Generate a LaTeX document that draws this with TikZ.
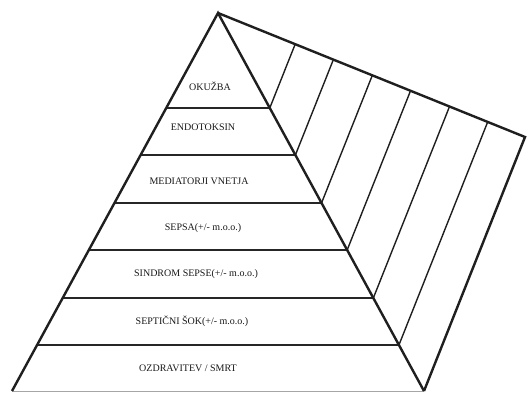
\documentclass[tikz,border=0pt]{standalone}
\usepackage{fontspec}
\setmainfont{Liberation Serif}
\usetikzlibrary{calc}
\begin{document}
\begin{tikzpicture}[x=1pt,y=-1pt,
  outline/.style={line width=2.4pt,draw=black!88,line join=miter},
  divider/.style={line width=1.3pt,draw=black!85},
  hatch/.style={line width=1.4pt,draw=black!88},
  lvl/.style={font=\fontsize{10}{12}\selectfont,text=black!90,inner sep=0pt}]
\useasboundingbox (0,0) rectangle (527,392);
\fill[white] (0,0) rectangle (527,392);
% main points
\coordinate (A) at (218,13);
\coordinate (L) at (12,391);
\coordinate (R) at (424,391);
\coordinate (C) at (525,137);
% level junctions
\foreach \t [count=\i] in {0.2513,0.3757,0.5026,0.6270,0.7540,0.8783}{
  \coordinate (l\i) at ($(A)!\t!(L)$);
  \coordinate (r\i) at ($(A)!\t!(R)$);
  \coordinate (k\i) at ($(r\i)+(C)-(R)$);
  \coordinate (t\i) at (intersection of A--C and r\i--k\i);
}
% horizontal dividers
\foreach \i in {1,...,6}{ \draw[divider] (l\i) -- (r\i); }
% hatching lines
\foreach \i in {1,...,6}{ \draw[hatch] (r\i) -- (t\i); }
% base line
\draw[line width=0.8pt,draw=black!35] (L) -- (R);
% outlines
\draw[outline] (L) -- (A) -- (R);
\draw[outline] (A) -- (C) -- (R);
% labels
\node[lvl] (n1) at (210,86) {OKUŽBA};
\node[lvl] (n2) at (203,127) {ENDOTOKSIN};
\node[lvl] (n3) at (199,181) {MEDIATORJI VNETJA};
\node[lvl] (n4) at (203,228) {SEPSA(+/- m.o.o.)};
\node[lvl] (n5) at (196,274) {SINDROM SEPSE(+/- m.o.o.)};
\node[lvl] (n6) at (192,321) {SEPTIČNI ŠOK(+/- m.o.o.)};
\node[lvl] (n7) at (188,368) {OZDRAVITEV / SMRT};
\end{tikzpicture}
\end{document}
